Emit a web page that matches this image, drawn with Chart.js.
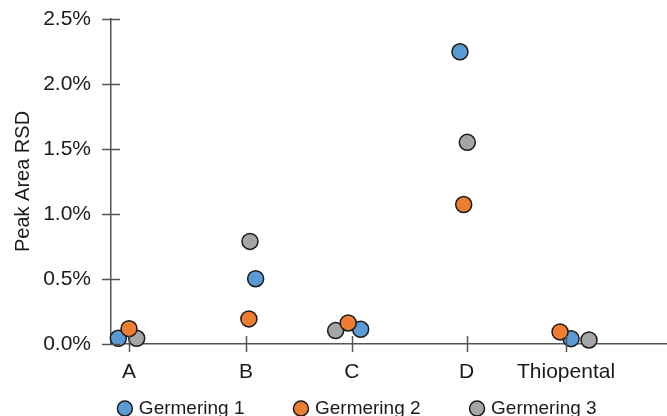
<!DOCTYPE html>
<html>
<head>
<meta charset="utf-8">
<script src="https://cdn.jsdelivr.net/npm/chart.js"></script>
<style>
  html, body { margin: 0; padding: 0; background: #fff; }
  #wrap { width: 667px; height: 416px; }
</style>
</head>
<body>
<div id="wrap"><canvas id="chart"></canvas></div>
<script>
// Categories and where their ticks sit on the x axis
const categories = ['A', 'B', 'C', 'D', 'Thiopental'];
const categoryPos = [0, 1.07, 2.04, 3.09, 4.0];

// Peak area RSD (%) per series
const germering1 = [0.044, 0.502, 0.113, 2.248, 0.041];
const germering2 = [0.118, 0.193, 0.162, 1.073, 0.093];
const germering3 = [0.044, 0.789, 0.103, 1.551, 0.031];

// Horizontal spread of the points around each category tick
const jitter1 = [-0.098, 0.089, 0.080, -0.061, 0.046];
const jitter2 = [0.0, 0.027, -0.034, -0.027, -0.055];
const jitter3 = [0.070, 0.037, -0.149, 0.006, 0.21];

const yTicks = [0, 0.5, 1.0, 1.5, 2.0, 2.5];

const FONT = '"Liberation Sans", Arial, Helvetica, sans-serif';
const AXIS_COLOR = '#555555';

function points(values, jitter) {
    return values.map((v, i) => ({ x: categoryPos[i] + jitter[i], y: v }));
}

function series(label, values, jitter, color, order) {
    return {
        label: label,
        data: points(values, jitter),
        backgroundColor: color,
        borderColor: '#1a1a1a',
        borderWidth: 1.5,
        pointRadius: 8,
        pointHoverRadius: 8,
        clip: false,
        order: order
    };
}

// Tick marks that cross the axis line; room for x labels; nudge the legend right
const crossTicks = {
    id: 'crossTicks',
    afterLayout(chart) {
        const x = chart.scales.x;
        x.bottom = x.top + 45;
        x.height = 45;
        chart.legend.left += 25;
        chart.legend.right += 25;
    },
    afterDraw(chart) {
        const ctx = chart.ctx;
        const x = chart.scales.x;
        const y = chart.scales.y;
        const axisY = chart.chartArea.bottom;
        const axisX = chart.chartArea.left;
        ctx.save();
        ctx.strokeStyle = AXIS_COLOR;
        ctx.lineWidth = 1.5;
        ctx.beginPath();
        x.ticks.forEach(t => {
            const px = Math.round(x.getPixelForValue(t.value)) + 0.5;
            ctx.moveTo(px, axisY - 8);
            ctx.lineTo(px, axisY + 8);
        });
        y.ticks.forEach(t => {
            const py = Math.round(y.getPixelForValue(t.value)) + 0.5;
            ctx.moveTo(axisX - 9, py);
            ctx.lineTo(axisX + 9, py);
        });
        ctx.stroke();
        ctx.restore();
    }
};

const ctx = document.getElementById('chart').getContext('2d');
new Chart(ctx, {
    type: 'scatter',
    data: {
        datasets: [
            series('Germering 1', germering1, jitter1, '#5b9bd5', 1),
            series('Germering 2', germering2, jitter2, '#ed7d31', 0),
            series('Germering 3', germering3, jitter3, '#a5a5a5', 2)
        ]
    },
    options: {
        responsive: true,
        maintainAspectRatio: false,
        animation: false,
        layout: { autoPadding: false, padding: { top: 19, right: 0, left: 0, bottom: -12 } },
        plugins: {
            tooltip: { enabled: false },
            legend: {
                position: 'bottom',
                labels: {
                    usePointStyle: true,
                    pointStyle: 'circle',
                    boxWidth: 9,
                    boxHeight: 10.6,
                    padding: 52,
                    color: '#1a1a1a',
                    font: { family: FONT, size: 19 },
                    sort: (a, b) => a.datasetIndex - b.datasetIndex
                }
            }
        },
        scales: {
            x: {
                type: 'linear',
                min: -0.165,
                max: 4.924,
                afterBuildTicks: s => { s.ticks = categoryPos.map(v => ({ value: v })); },
                afterFit: s => { s.height = 3; s.paddingLeft = 0; s.paddingRight = 0; },
                ticks: {
                    autoSkip: false,
                    maxRotation: 0,
                    padding: 16,
                    color: '#1a1a1a',
                    font: { family: FONT, size: 21 },
                    callback: (v, i) => categories[i]
                },
                grid: { drawOnChartArea: false, drawTicks: false },
                border: { display: true, color: AXIS_COLOR, width: 1.5 }
            },
            y: {
                min: 0,
                max: 2.5,
                afterBuildTicks: s => { s.ticks = yTicks.map(v => ({ value: v })); },
                afterFit: s => { s.width = 111; s.paddingTop = 0; s.paddingBottom = 0; },
                ticks: {
                    padding: 20,
                    color: '#1a1a1a',
                    font: { family: FONT, size: 21 },
                    callback: v => v.toFixed(1) + '%'
                },
                title: {
                    display: true,
                    text: 'Peak Area RSD',
                    color: '#1a1a1a',
                    font: { family: FONT, size: 20 },
                    padding: { top: 11, bottom: 0 }
                },
                grid: { drawOnChartArea: false, drawTicks: false },
                border: { display: true, color: AXIS_COLOR, width: 1.5 }
            }
        }
    },
    plugins: [crossTicks]
});
</script>
</body>
</html>
